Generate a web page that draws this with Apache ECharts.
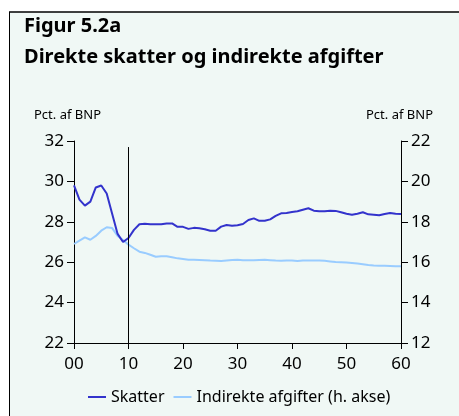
<!DOCTYPE html>
<html>
<head>
<meta charset="utf-8">
<script src="https://cdn.jsdelivr.net/npm/echarts@6/dist/echarts.min.js"></script>
<style>
    html, body { margin: 0; padding: 0; background: #fff; }
    #chart { width: 459px; height: 416px; }
</style>
</head>
<body>
<div id="chart"></div>
<script>
    // år 2000-2060
    var years = [];
    for (var i = 0; i <= 60; i++) years.push(i);
    // Direkte skatter, pct. af BNP (v. akse)
    var skatter = [
        29.8, 29.1, 28.8, 29.0, 29.7, 29.8, 29.4, 28.4, 27.4, 27.0,
        27.2, 27.6, 27.88, 27.9, 27.88, 27.88, 27.88, 27.92, 27.92, 27.75,
        27.75, 27.65, 27.7, 27.68, 27.63, 27.56, 27.56, 27.76, 27.84, 27.8,
        27.83, 27.89, 28.09, 28.17, 28.05, 28.05, 28.12, 28.29, 28.42, 28.44,
        28.49, 28.52, 28.6, 28.67, 28.55, 28.52, 28.52, 28.55, 28.54, 28.47,
        28.4, 28.35, 28.4, 28.47, 28.37, 28.35, 28.32, 28.39, 28.44, 28.4,
        28.39
    ];
    // Indirekte afgifter, pct. af BNP (h. akse)
    var afgifter = [
        16.9, 17.07, 17.23, 17.11, 17.3, 17.56, 17.73, 17.69, 17.3, 17.1,
        16.87, 16.69, 16.52, 16.46, 16.37, 16.27, 16.3, 16.29, 16.24, 16.19,
        16.16, 16.12, 16.12, 16.11, 16.1, 16.08, 16.07, 16.06, 16.09, 16.11,
        16.12, 16.1, 16.1, 16.1, 16.11, 16.12, 16.1, 16.08, 16.07, 16.09,
        16.08, 16.06, 16.09, 16.08, 16.09, 16.09, 16.07, 16.04, 16.01, 16.0,
        15.98, 15.96, 15.93, 15.9, 15.86, 15.84, 15.83, 15.82, 15.81, 15.8,
        15.8
    ];
    var xTicks = ['00', '10', '20', '30', '40', '50', '60'];
    var leftTicks = [22, 24, 26, 28, 30, 32];
    var rightTicks = [12, 14, 16, 18, 20, 22];
    var breakYear = 10;

    function pairs(vals) {
        return years.map(function(y, i) { return [y, vals[i]]; });
    }

    var FONT = 'Noto Sans';
    var chart = echarts.init(document.getElementById('chart'));
    var option = {
        animation: false,
        textStyle: { fontFamily: FONT },
        graphic: [
            { type: 'rect', shape: { x: 9, y: 12, width: 450, height: 404 }, style: { fill: '#f0f8f5' }, z: -10 },
            { type: 'line', shape: { x1: 9, y1: 12, x2: 459, y2: 12 }, style: { stroke: '#000', lineWidth: 1.5 } },
            { type: 'line', shape: { x1: 9.5, y1: 12, x2: 9.5, y2: 416 }, style: { stroke: '#000', lineWidth: 1 } },
            { type: 'text', left: 24, top: 16, style: { text: 'Figur 5.2a', font: 'bold 20px "Noto Sans"', fill: '#000' } },
            { type: 'text', left: 24, top: 47, style: { text: 'Direkte skatter og indirekte afgifter', font: 'bold 20px "Noto Sans"', fill: '#000' } },
            { type: 'text', left: 34, top: 109, style: { text: 'Pct. af BNP', font: '13px "Noto Sans"', fill: '#000' } },
            { type: 'text', right: 26, top: 109, style: { text: 'Pct. af BNP', font: '13px "Noto Sans"', fill: '#000' } }
        ],
        grid: { left: 74, right: 58, top: 141, bottom: 73 },
        legend: {
            left: 83,
            top: 384,
            icon: 'rect',
            itemWidth: 18,
            itemHeight: 2,
            itemGap: 9,
            textStyle: { fontFamily: FONT, fontSize: 16, color: '#000' },
            data: ['Skatter', 'Indirekte afgifter (h. akse)']
        },
        xAxis: {
            type: 'value',
            min: 0,
            max: 60,
            interval: 10,
            axisLine: { lineStyle: { color: '#000', width: 1 } },
            axisTick: { inside: false, length: 6, lineStyle: { color: '#000' } },
            axisLabel: {
                fontSize: 17, color: '#000', margin: 13,
                formatter: function(v) { return xTicks[v / 10]; }
            },
            splitLine: { show: false }
        },
        yAxis: [{
            type: 'value',
            min: leftTicks[0],
            max: leftTicks[leftTicks.length - 1],
            interval: 2,
            axisLine: { show: true, lineStyle: { color: '#000', width: 1 } },
            axisTick: { show: true, length: 7, lineStyle: { color: '#000' } },
            axisLabel: { fontSize: 17, color: '#000', margin: 10 },
            splitLine: { show: false }
        }, {
            type: 'value',
            min: rightTicks[0],
            max: rightTicks[rightTicks.length - 1],
            interval: 2,
            position: 'right',
            axisLine: { show: true, lineStyle: { color: '#000', width: 1 } },
            axisTick: { show: true, length: 7, lineStyle: { color: '#000' } },
            axisLabel: { fontSize: 17, color: '#000', margin: 10 },
            splitLine: { show: false }
        }],
        series: [{
            name: 'Skatter',
            type: 'line',
            yAxisIndex: 0,
            data: pairs(skatter),
            symbol: 'none',
            z: 3,
            itemStyle: { color: '#3333cc' },
            lineStyle: { color: '#3333cc', width: 2 },
            markLine: {
                silent: true,
                symbol: 'none',
                label: { show: false },
                lineStyle: { color: '#000', width: 1, type: 'solid' },
                data: [[{ coord: [breakYear, 31.7] }, { coord: [breakYear, 22] }]]
            }
        }, {
            name: 'Indirekte afgifter (h. akse)',
            type: 'line',
            yAxisIndex: 1,
            data: pairs(afgifter),
            symbol: 'none',
            z: 2,
            itemStyle: { color: '#99ccff' },
            lineStyle: { color: '#99ccff', width: 2 }
        }]
    };
    chart.setOption(option);
</script>
</body>
</html>
